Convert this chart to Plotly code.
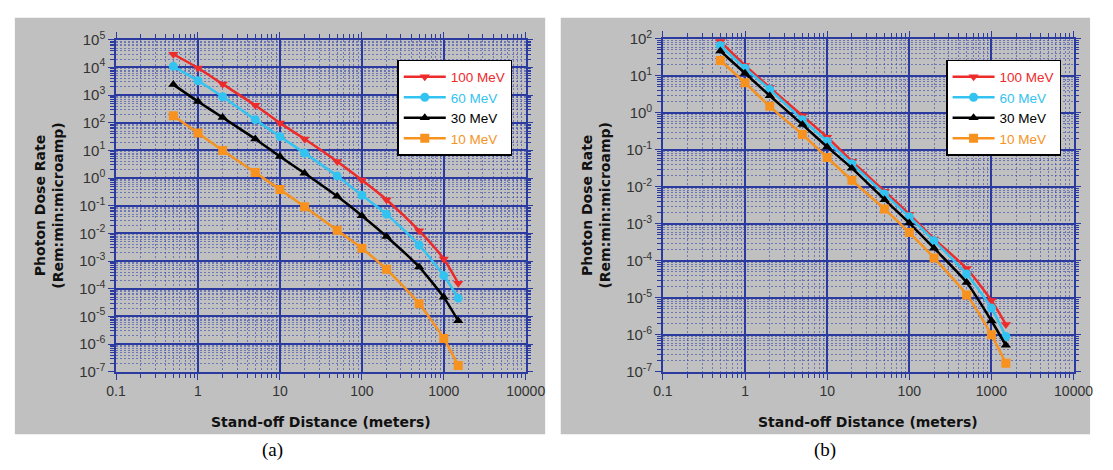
import plotly.graph_objects as go

# ---------------- data ----------------
distance = [0.5, 1, 2, 5, 10, 20, 50, 100, 200, 500, 1000, 1500]
series_names = ["100 MeV", "60 MeV", "30 MeV", "10 MeV"]

# panel (a)
a_100 = [3.0e4, 9.6e3, 2.5e3, 430, 98, 26, 4.0, 0.85, 0.166, 0.0126, 1.2e-3, 1.6e-4]
a_60 = [1.1e4, 3.3e3, 870, 130, 32, 8.0, 1.2, 0.24, 0.05, 3.8e-3, 3.0e-4, 4.6e-5]
a_30 = [2.4e3, 590, 155, 26, 6.0, 1.5, 0.22, 0.044, 7.8e-3, 6.2e-4, 4.9e-5, 7.0e-6]
a_10 = [180, 43, 10, 1.6, 0.39, 0.093, 0.013, 2.9e-3, 5.1e-4, 2.9e-5, 1.6e-6, 1.7e-7]

# panel (b)
b_100 = [85, 19, 4.8, 0.83, 0.22, 0.049, 7.6e-3, 1.8e-3, 3.9e-4, 6.2e-5, 8.5e-6, 1.9e-6]
b_60 = [66, 16, 4.3, 0.65, 0.17, 0.042, 6.4e-3, 1.55e-3, 3.5e-4, 4.4e-5, 5.3e-6, 9e-7]
b_30 = [47, 11.7, 2.9, 0.48, 0.12, 0.032, 4.5e-3, 1.05e-3, 2.2e-4, 2.6e-5, 2.4e-6, 5.2e-7]
b_10 = [26, 6.5, 1.5, 0.26, 0.062, 0.015, 2.5e-3, 5.8e-4, 1.2e-4, 1.2e-5, 1.0e-6, 1.7e-7]

x_tickvals = [0.1, 1, 10, 100, 1000, 10000]
x_ticktext = ["0.1", "1", "10", "100", "1000", "10000"]
y_exp_a = [5, 4, 3, 2, 1, 0, -1, -2, -3, -4, -5, -6, -7]
y_exp_b = [2, 1, 0, -1, -2, -3, -4, -5, -6, -7]

# ---------------- style ----------------
colors = ["#EE2B2B", "#33C3F0", "#000000", "#F7921E"]
symbols = ["triangle-down", "circle", "triangle-up", "square"]
grid_col = "#2A3A9E"
minor_col = "rgba(52,70,170,0.6)"
W, H = 1113, 470

fig = go.Figure()

panel_a = [a_100, a_60, a_30, a_10]
panel_b = [b_100, b_60, b_30, b_10]

for i, ys in enumerate(panel_a):
    fig.add_trace(go.Scatter(
        x=distance, y=ys, xaxis="x", yaxis="y", legend="legend",
        mode="lines+markers",
        name=f"<span style='color:{colors[i]}'>{series_names[i]}</span>",
        line=dict(color=colors[i], width=2.5, shape="spline", smoothing=0.6),
        marker=dict(symbol=symbols[i], size=9, color=colors[i]),
    ))
for i, ys in enumerate(panel_b):
    fig.add_trace(go.Scatter(
        x=distance, y=ys, xaxis="x2", yaxis="y2", legend="legend2",
        mode="lines+markers",
        name=f"<span style='color:{colors[i]}'>{series_names[i]}</span>",
        line=dict(color=colors[i], width=2.5, shape="spline", smoothing=0.6),
        marker=dict(symbol=symbols[i], size=9, color=colors[i]),
    ))


def px_x(p):
    return p / W


def px_y(p):
    return 1 - p / H


def xaxis_cfg(x0, x1):
    return dict(
        type="log", range=[-1, 4], domain=[px_x(x0), px_x(x1)],
        tickvals=x_tickvals, ticktext=x_ticktext,
        showgrid=True, gridcolor=grid_col, gridwidth=1.5,
        showline=True, linecolor=grid_col, linewidth=1.5, mirror="allticks",
        ticks="outside", ticklen=6, tickcolor=grid_col, tickwidth=1.3,
        tickfont=dict(family="Liberation Sans, Arial", size=14, color="#333333"),
        minor=dict(dtick="D1", showgrid=True, gridcolor=minor_col, griddash="2px,2px",
                   gridwidth=1, ticks="outside", ticklen=4, tickcolor=grid_col),
        zeroline=False, fixedrange=True,
    )


def yaxis_cfg(exps, y0, y1, anchor):
    return dict(
        type="log", range=[exps[-1], exps[0]], domain=[px_y(y1), px_y(y0)],
        anchor=anchor,
        tickvals=[10.0 ** e for e in exps],
        ticktext=[f"10<sup>{e}</sup>" for e in exps],
        showgrid=True, gridcolor=grid_col, gridwidth=1.5,
        showline=True, linecolor=grid_col, linewidth=1.5, mirror="allticks",
        ticks="outside", ticklen=6, tickcolor=grid_col, tickwidth=1.3,
        tickfont=dict(family="Liberation Sans, Arial", size=15, color="#333333"),
        minor=dict(dtick="D1", showgrid=True, gridcolor=minor_col, griddash="2px,2px",
                   gridwidth=1, ticks="outside", ticklen=4, tickcolor=grid_col),
        zeroline=False, fixedrange=True,
    )


legend_common = dict(
    bgcolor="white", bordercolor="black", borderwidth=1.5,
    font=dict(family="Liberation Sans, Arial", size=13.5),
    xanchor="left", yanchor="top", tracegroupgap=0, itemwidth=42,
)

fig.update_layout(
    width=W, height=H,
    margin=dict(l=0, r=0, t=0, b=0),
    paper_bgcolor="white", plot_bgcolor="white",
    showlegend=True,
    xaxis=dict(xaxis_cfg(109, 530), anchor="y"),
    yaxis=yaxis_cfg(y_exp_a, 30, 376, "x"),
    xaxis2=dict(xaxis_cfg(671, 1093), anchor="y2"),
    yaxis2=yaxis_cfg(y_exp_b, 29, 376, "x2"),
    legend=dict(legend_common, x=px_x(398), y=px_y(51)),
    legend2=dict(legend_common, x=px_x(962), y=px_y(51)),
    shapes=[
        dict(type="rect", xref="paper", yref="paper", layer="below",
             x0=px_x(5), x1=px_x(550), y0=px_y(441), y1=px_y(7),
             fillcolor="#C0C0C0", line=dict(width=0)),
        dict(type="rect", xref="paper", yref="paper", layer="below",
             x0=px_x(566), x1=px_x(1110), y0=px_y(441), y1=px_y(7),
             fillcolor="#C0C0C0", line=dict(width=0)),
    ],
)

ann = []
title_font = dict(family="DejaVu Sans", size=14, color="#111111")
for xc in [320, 882]:
    ann.append(dict(xref="paper", yref="paper", x=px_x(xc), y=px_y(428),
                    text="<b>Stand-off Distance (meters)</b>", showarrow=False,
                    font=title_font, xanchor="center", yanchor="middle"))
for xc in [40, 602]:
    ann.append(dict(xref="paper", yref="paper", x=px_x(xc), y=px_y(203),
                    text="<b>Photon Dose Rate<br>(Rem:min:microamp)</b>",
                    showarrow=False, textangle=-90, font=title_font,
                    xanchor="center", yanchor="middle"))
for xc, lab in [(270, "(a)"), (838, "(b)")]:
    ann.append(dict(xref="paper", yref="paper", x=px_x(xc), y=px_y(458),
                    text=lab, showarrow=False,
                    font=dict(family="Liberation Serif, Times New Roman", size=19, color="black"),
                    xanchor="center", yanchor="middle"))
fig.update_layout(annotations=ann)

fig.write_html(
    "out.html",
    config={"displayModeBar": False},
    post_script=(
        "document.documentElement.style.margin='0';"
        "document.documentElement.style.overflow='hidden';"
        "document.body.style.margin='0';document.body.style.overflow='hidden';"
    ),
)
